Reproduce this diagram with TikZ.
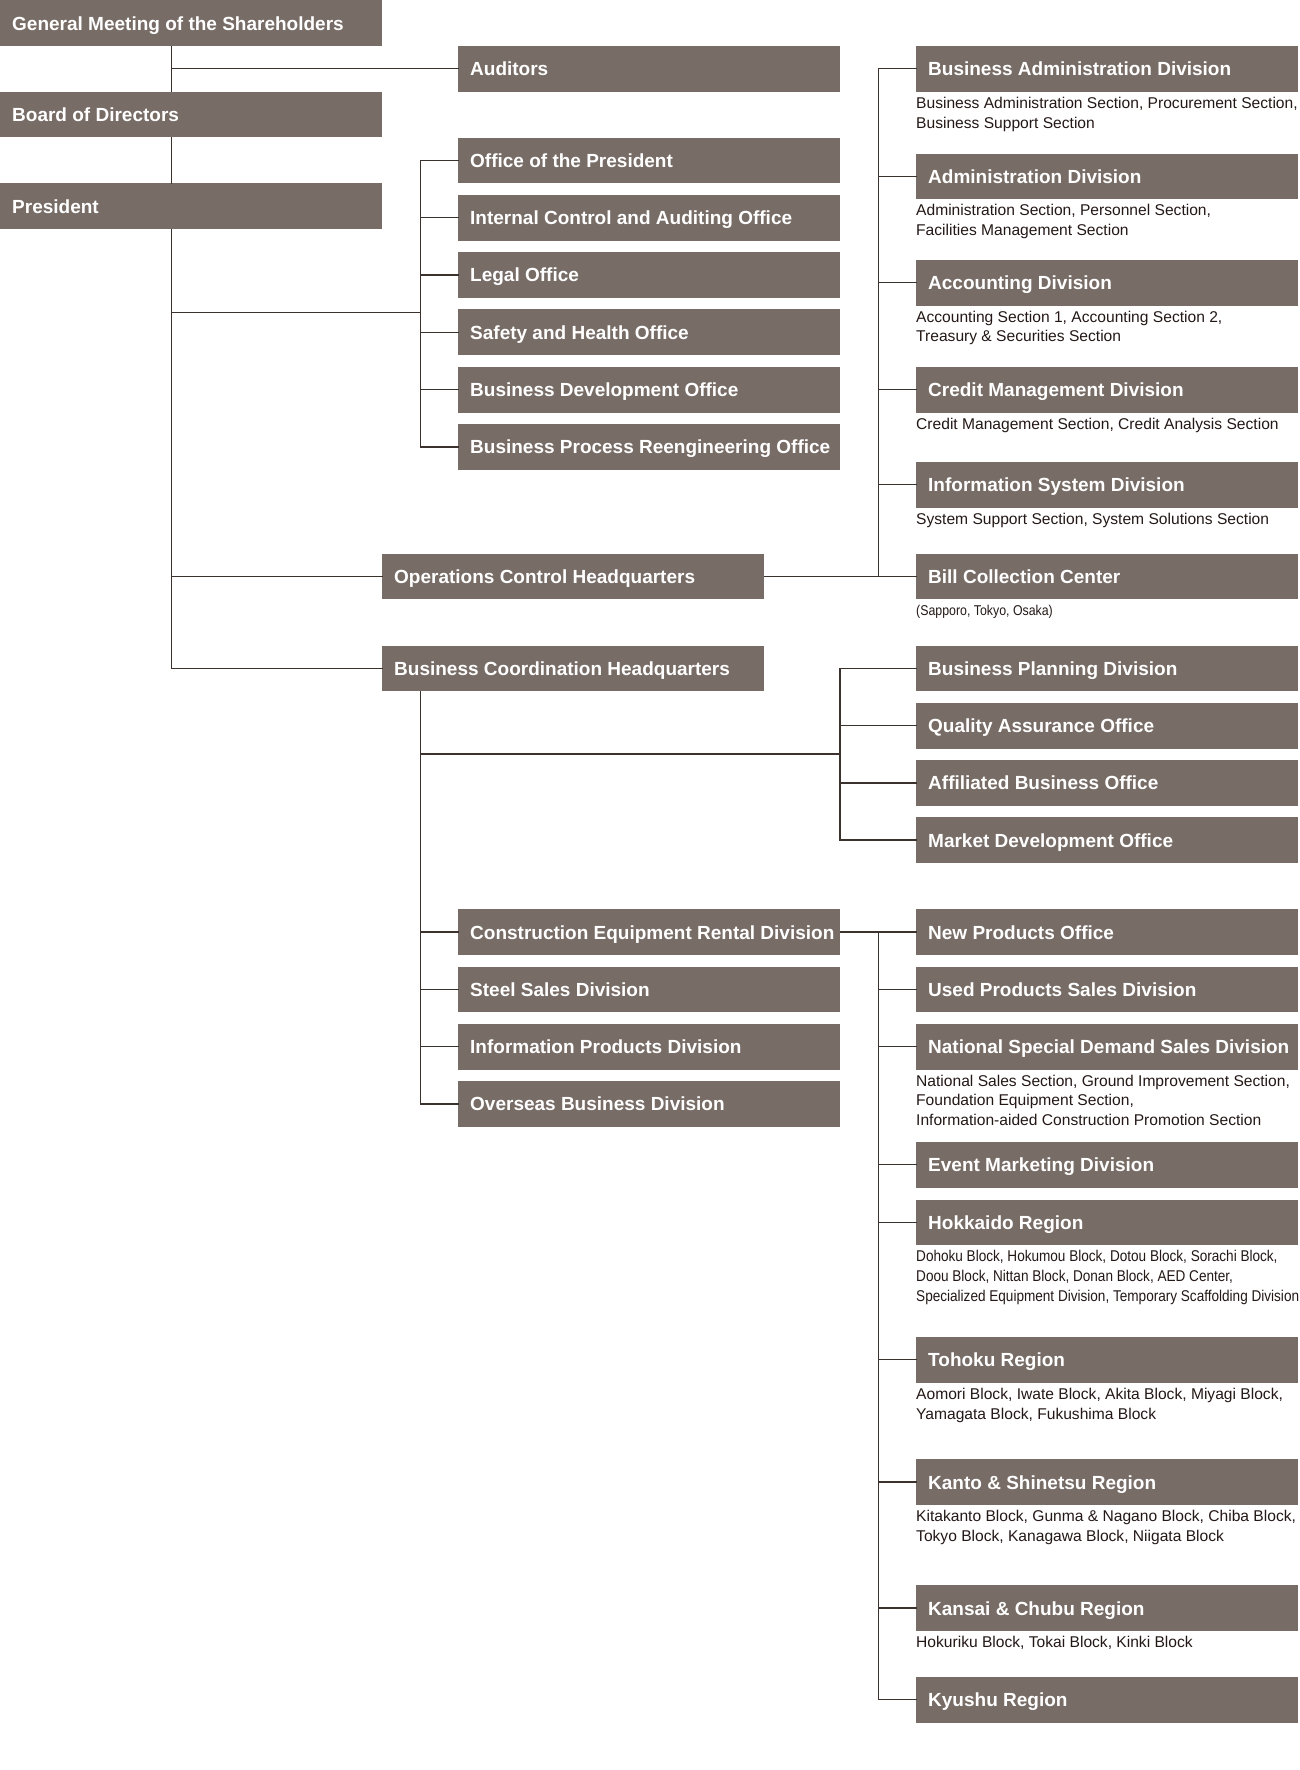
\documentclass[tikz,border=0pt]{standalone}
\usepackage{fontspec}
\setmainfont{Liberation Sans}
\newfontfamily\narrowfont[FakeStretch=0.87]{Liberation Sans}
\usepackage{tikz}
\usetikzlibrary{positioning}
\definecolor{boxgray}{HTML}{776C66}
\definecolor{linegray}{HTML}{3C322D}
\definecolor{notegray}{HTML}{231815}
\newcommand{\unitfont}{\bfseries\fontsize{19}{22}\selectfont}
\newcommand{\notefont}{\fontsize{15.6}{19.8}\selectfont}
\newcommand{\narrownotefont}{\narrowfont\fontsize{15.6}{19.8}\selectfont}
\tikzset{
  unitbox/.style={fill=boxgray, text=white, font=\unitfont, anchor=north west,
    minimum height=45.8pt, inner xsep=12pt, inner ysep=0pt,
    text height=13.8pt, text depth=0pt,
    execute at begin node={\hbox to 358pt\bgroup},
    execute at end node={\hss\egroup}},
  secnote/.style={text=notegray, font=\notefont, anchor=north west, inner sep=0pt, align=left},
  conn/.style={draw=linegray, line width=1.3pt, line cap=rect},
}

\begin{document}
\begin{tikzpicture}[x=1pt,y=-1pt]
  \useasboundingbox (0,0) rectangle (1300,1770);

  % top of the chart
  \node[unitbox] (gm) at (0,0) {General Meeting of the Shareholders};
  \node[unitbox] (board) at (0,91.3) {Board of Directors};
  \node[unitbox] (pres) at (0,183.2) {President};
  \node[unitbox] (aud) at (458,45.7) {Auditors};

  % offices under the president
  \foreach \name/\txt [count=\i from 0] in {off1/Office of the President,
      off2/Internal Control and Auditing Office, off3/Legal Office,
      off4/Safety and Health Office, off5/Business Development Office,
      off6/Business Process Reengineering Office}
    \node[unitbox] (\name) at (458,{137.3+57.3*\i}) {\txt};

  % headquarters
  \node[unitbox] (opshq) at (382,553.3) {Operations Control Headquarters};
  \node[unitbox] (bchq) at (382,645.3) {Business Coordination Headquarters};

  % operations control side
  \node[unitbox] (ba) at (916,45.7) {Business Administration Division};
  \node[secnote] (bas) at ([yshift=-4.8pt]ba.south west) {Business Administration Section, Procurement Section,\\Business Support Section};
  \node[unitbox] (adm) at (916,153.3) {Administration Division};
  \node[secnote] (adms) at ([yshift=-4.8pt]adm.south west) {Administration Section, Personnel Section,\\Facilities Management Section};
  \node[unitbox] (acc) at (916,259.5) {Accounting Division};
  \node[secnote] (accs) at ([yshift=-4.8pt]acc.south west) {Accounting Section 1, Accounting Section 2,\\Treasury \& Securities Section};
  \node[unitbox] (cred) at (916,366.7) {Credit Management Division};
  \node[secnote] (creds) at ([yshift=-4.8pt]cred.south west) {Credit Management Section, Credit Analysis Section};
  \node[unitbox] (isd) at (916,461.7) {Information System Division};
  \node[secnote] (isds) at ([yshift=-4.8pt]isd.south west) {System Support Section, System Solutions Section};
  \node[unitbox] (bill) at (916,553.3) {Bill Collection Center};
  \node[secnote, font=\narrowfont\fontsize{14.2}{17}\selectfont] (bills) at ([yshift=-5.4pt]bill.south west) {(Sapporo, Tokyo, Osaka)};

  % business coordination side
  \foreach \name/\txt [count=\i from 0] in {plan1/Business Planning Division,
      plan2/Quality Assurance Office, plan3/Affiliated Business Office,
      plan4/Market Development Office}
    \node[unitbox] (\name) at (916,{645.4+57.2*\i}) {\txt};
  \foreach \name/\txt [count=\i from 0] in {div1/Construction Equipment Rental Division,
      div2/Steel Sales Division, div3/Information Products Division,
      div4/Overseas Business Division}
    \node[unitbox] (\name) at (458,{909+57.3*\i}) {\txt};

  % construction equipment rental division
  \node[unitbox] (npo) at (916,909) {New Products Office};
  \node[unitbox] (upsd) at (916,966.3) {Used Products Sales Division};
  \node[unitbox] (nsd) at (916,1023.6) {National Special Demand Sales Division};
  \node[secnote] (nsds) at ([yshift=-4.8pt]nsd.south west) {National Sales Section, Ground Improvement Section,\\Foundation Equipment Section,\\Information-aided Construction Promotion Section};
  \node[unitbox] (emd) at (916,1141.7) {Event Marketing Division};
  \node[unitbox] (hok) at (916,1199.3) {Hokkaido Region};
  \node[secnote, font=\narrownotefont] (hoks) at ([yshift=-4.8pt]hok.south west) {Dohoku Block, Hokumou Block, Dotou Block, Sorachi Block,\\Doou Block, Nittan Block, Donan Block, AED Center,\\Specialized Equipment Division, Temporary Scaffolding Division};
  \node[unitbox] (toh) at (916,1336.7) {Tohoku Region};
  \node[secnote] (tohs) at ([yshift=-4.8pt]toh.south west) {Aomori Block, Iwate Block, Akita Block, Miyagi Block,\\Yamagata Block, Fukushima Block};
  \node[unitbox] (kan) at (916,1459) {Kanto \& Shinetsu Region};
  \node[secnote] (kans) at ([yshift=-4.8pt]kan.south west) {Kitakanto Block, Gunma \& Nagano Block, Chiba Block,\\Tokyo Block, Kanagawa Block, Niigata Block};
  \node[unitbox] (kcr) at (916,1585) {Kansai \& Chubu Region};
  \node[secnote] (kcrs) at ([yshift=-4.8pt]kcr.south west) {Hokuriku Block, Tokai Block, Kinki Block};
  \node[unitbox] (kyu) at (916,1676.7) {Kyushu Region};

  % connectors
  \coordinate (trunk) at (171.7,0);
  \coordinate (offbar) at (420.5,0);
  \coordinate (rbar) at (878.4,0);
  \coordinate (planbar) at (840,0);
  \coordinate (offjoin) at (0,312.7);
  \coordinate (planjoin) at (0,754);

  \draw[conn] (gm.south -| trunk) -- (board.north -| trunk);
  \draw[conn] (board.south -| trunk) -- (pres.north -| trunk);
  \draw[conn] (pres.south -| trunk) -- (bchq.west -| trunk) -- (bchq.west);
  \draw[conn] (aud.west -| trunk) -- (aud.west);
  \draw[conn] (opshq.west -| trunk) -- (opshq.west);
  \draw[conn] (offjoin -| trunk) -- (offjoin -| offbar);
  \draw[conn] (off1.west -| offbar) -- (off6.west -| offbar);
  \foreach \n in {off1,off2,off3,off4,off5,off6}
    \draw[conn] (\n.west -| offbar) -- (\n.west);

  \draw[conn] (opshq.east) -- (bill.west);
  \draw[conn] (ba.west -| rbar) -- (bill.west -| rbar);
  \foreach \n in {ba,adm,acc,cred,isd}
    \draw[conn] (\n.west -| rbar) -- (\n.west);

  \draw[conn] (bchq.south -| offbar) -- (div4.west -| offbar);
  \foreach \n in {div1,div2,div3,div4}
    \draw[conn] (\n.west -| offbar) -- (\n.west);
  \draw[conn] (planjoin -| offbar) -- (planjoin -| planbar);
  \draw[conn] (plan1.west -| planbar) -- (plan4.west -| planbar);
  \foreach \n in {plan1,plan2,plan3,plan4}
    \draw[conn] (\n.west -| planbar) -- (\n.west);

  \draw[conn] (div1.east) -- (npo.west);
  \draw[conn] (npo.west -| rbar) -- (kyu.west -| rbar);
  \foreach \n in {upsd,nsd,emd,hok,toh,kan,kcr,kyu}
    \draw[conn] (\n.west -| rbar) -- (\n.west);
\end{tikzpicture}
\end{document}
